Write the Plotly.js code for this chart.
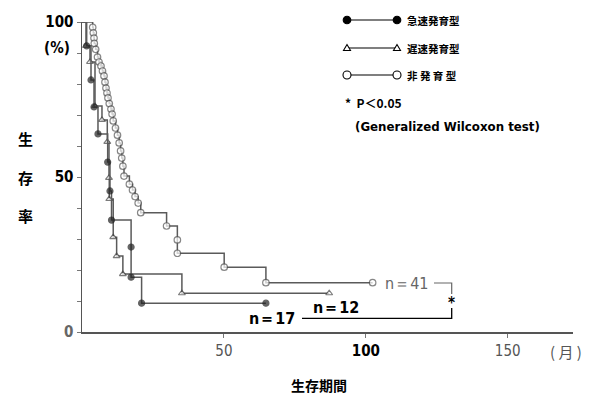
<!DOCTYPE html>
<html>
<head>
<meta charset="utf-8">
<script src="https://cdn.plot.ly/plotly-3.0.1.min.js"></script>
<style>html,body{margin:0;padding:0;background:#fff;}#chart{width:595px;height:394px;}</style>
</head>
<body>
<div id="chart"></div>
<script>
// ---- data (months, survival %) ----
const monthsFast = [1.65, 3.17, 4.23, 5.63, 9.05, 9.86, 10.4, 17.3, 17.3, 21.0, 64.8];
const survFast   = [92.3, 81.3, 72.6, 63.9, 54.8, 45.5, 36.1, 27.4, 17.7, 9.3, 9.3];

const monthsSlow = [1.41, 2.82, 4.58, 7.04, 8.91, 9.51, 9.61, 11.0, 12.2, 14.4, 35.2, 87.1];
const survSlow   = [92.3, 87.1, 72.9, 68.4, 61.3, 49.7, 42.9, 30.6, 24.5, 18.7, 12.5, 12.5];

const monthsNon = [3.77, 3.98, 4.23, 4.33, 4.82, 5.46, 5.99, 6.69, 7.22, 7.75, 8.10, 8.45, 8.80, 9.15, 9.61,
                   10.2, 10.6, 11.0, 11.8, 12.5, 13.1, 13.6, 14.0, 14.4, 14.8, 16.7, 17.8, 18.7, 19.8, 20.7,
                   29.8, 33.6, 33.6, 50.1, 64.8, 102.4];
const survNon   = [98.3, 96.5, 94.8, 93.1, 91.2, 88.7, 87.1, 85.8, 84.2, 82.6, 80.6, 78.7, 77.1, 75.5, 73.7,
                   71.9, 70.3, 68.1, 65.8, 63.5, 61.0, 58.4, 56.1, 53.5, 50.3, 47.7, 45.8, 43.7, 41.6, 38.5,
                   34.2, 29.7, 25.4, 20.9, 15.9, 15.9];

const groupNames = ['急速発育型', '遅速発育型', '非 発 育 型'];
const groupN = ['n＝17', 'n＝12', 'n＝41'];
const xTickVals = [50, 100, 150];
const xTickText = ['50', '<span style="color:#000"><b>100</b></span>', '150'];
const yTickVals = [0, 10, 20, 30, 40, 50, 60, 70, 80, 90, 100];
const yTickText = ['<span style="color:#666">0</span>', '', '', '', '', '50', '', '', '', '', '100'];

// ---- styling ----
const CURVE = '#5a5a5a';
const NUMFONT = '"Liberation Sans Narrow", "DejaVu Sans Condensed", "Arial Narrow", sans-serif';
const JPFONT = '"Noto Sans CJK JP", sans-serif';
const L = 82, R = 573, T = 22, B = 332;
const px = v => (v - L) / (R - L);
const py = v => (B - v) / (B - T);

function kmTrace(months, surv, symbol, size, fill, lineCol) {
  const x = [0].concat(months);
  const y = [100].concat(surv);
  const sizes = [0].concat(months.map(() => size));
  return {
    type: 'scatter', mode: 'lines+markers', x: x, y: y,
    line: {shape: 'hv', color: CURVE, width: 1.5},
    marker: {symbol: symbol, size: sizes, color: fill, line: {color: lineCol, width: 1.2}},
    cliponaxis: false, hoverinfo: 'skip', showlegend: false
  };
}

const traces = [
  kmTrace(monthsNon, survNon, 'circle', 6.5, '#fff', '#555'),
  kmTrace(monthsSlow, survSlow, 'triangle-up', 6, '#fff', '#444'),
  kmTrace(monthsFast, survFast, 'circle', 6, '#222', '#222')
];

const shapes = [];
const annotations = [];
function ann(xp, yp, text, font, xanchor) {
  annotations.push({xref: 'paper', yref: 'paper', x: px(xp), y: py(yp), text: text, showarrow: false,
    xanchor: xanchor || 'center', yanchor: 'middle', font: font});
}

// legend rows
const legendY = [20, 48, 75];
const lx0 = 347, lx1 = 397;
legendY.forEach((y, i) => {
  shapes.push({type: 'line', xref: 'paper', yref: 'paper', x0: px(lx0), x1: px(lx1), y0: py(y), y1: py(y),
    line: {color: '#000', width: 1.2}});
  [lx0, lx1].forEach(cx => {
    if (i === 1) {
      const h = 3.5;
      shapes.push({type: 'path', xref: 'paper', yref: 'paper',
        path: 'M ' + px(cx - h) + ' ' + py(y + 2.5) + ' L ' + px(cx + h) + ' ' + py(y + 2.5) + ' L ' + px(cx) + ' ' + py(y - 3.5) + ' Z',
        fillcolor: '#fff', line: {color: '#000', width: 1.1}});
    } else {
      const r = i === 0 ? 3.8 : 4;
      shapes.push({type: 'circle', xref: 'paper', yref: 'paper', x0: px(cx - r), x1: px(cx + r), y0: py(y + r), y1: py(y - r),
        fillcolor: i === 0 ? '#000' : '#fff', line: {color: '#000', width: 1.1}});
    }
  });
  ann(405, y, '<b>' + groupNames[i] + '</b>', {family: JPFONT, size: 10.5, color: '#000'}, 'left');
});
ann(343, 102, '<b>*  P＜0.05</b>', {family: JPFONT, size: 12, color: '#000'}, 'left');
ann(353, 127, '<b>(Generalized Wilcoxon test)</b>', {family: 'DejaVu Sans, sans-serif', size: 11.8, color: '#000'}, 'left');

// n labels and significance bracket
ann(406, 283, groupN[2], {family: NUMFONT, size: 16, color: '#666'});
ann(272, 318, '<b>' + groupN[0] + '</b>', {family: NUMFONT, size: 16, color: '#000'});
ann(336, 307, '<b>' + groupN[1] + '</b>', {family: NUMFONT, size: 16, color: '#000'});
ann(451.5, 303, '<b>*</b>', {family: NUMFONT, size: 15, color: '#000'});
shapes.push({type: 'path', xref: 'paper', yref: 'paper',
  path: 'M ' + px(434) + ' ' + py(283) + ' L ' + px(451.7) + ' ' + py(283) + ' L ' + px(451.7) + ' ' + py(294),
  line: {color: '#666', width: 1.2}});
shapes.push({type: 'path', xref: 'paper', yref: 'paper',
  path: 'M ' + px(451.7) + ' ' + py(308) + ' L ' + px(451.7) + ' ' + py(318.3) + ' L ' + px(302) + ' ' + py(318.3),
  line: {color: '#000', width: 1.3}});

// axis-side texts
ann(57, 48, '<b>(%)</b>', {family: NUMFONT, size: 15, color: '#000'});
ann(566, 351, '( 月 )', {family: JPFONT, size: 15, color: '#555'});
['生', '存', '率'].forEach((c, i) => {
  ann(25, [138, 177, 215][i], '<b>' + c + '</b>', {family: JPFONT, size: 15, color: '#000'});
});
ann(319, 385, '<b>生存期間</b>', {family: JPFONT, size: 14, color: '#000'});

const layout = {
  width: 595, height: 394,
  margin: {l: L, r: 595 - R, t: T, b: 394 - B},
  paper_bgcolor: '#fff', plot_bgcolor: '#fff',
  showlegend: false,
  xaxis: {
    range: [0, 173], showgrid: false, zeroline: false,
    showline: true, linecolor: '#555', linewidth: 1.5,
    tickmode: 'array', tickvals: xTickVals, ticktext: xTickText,
    ticks: 'outside', ticklen: 4, tickcolor: '#777', tickwidth: 1,
    tickfont: {family: NUMFONT, size: 15, color: '#555'}
  },
  yaxis: {
    range: [0, 100], showgrid: false, zeroline: false,
    showline: true, linecolor: '#555', linewidth: 1.5,
    tickmode: 'array', tickvals: yTickVals, ticktext: yTickText,
    ticks: 'outside', ticklen: 4, tickcolor: '#777', tickwidth: 1,
    tickfont: {family: NUMFONT, size: 15, color: '#000', weight: 'bold'}
  },
  annotations: annotations,
  shapes: shapes
};

Plotly.newPlot('chart', traces, layout, {staticPlot: true, displayModeBar: false});
</script>
</body>
</html>
